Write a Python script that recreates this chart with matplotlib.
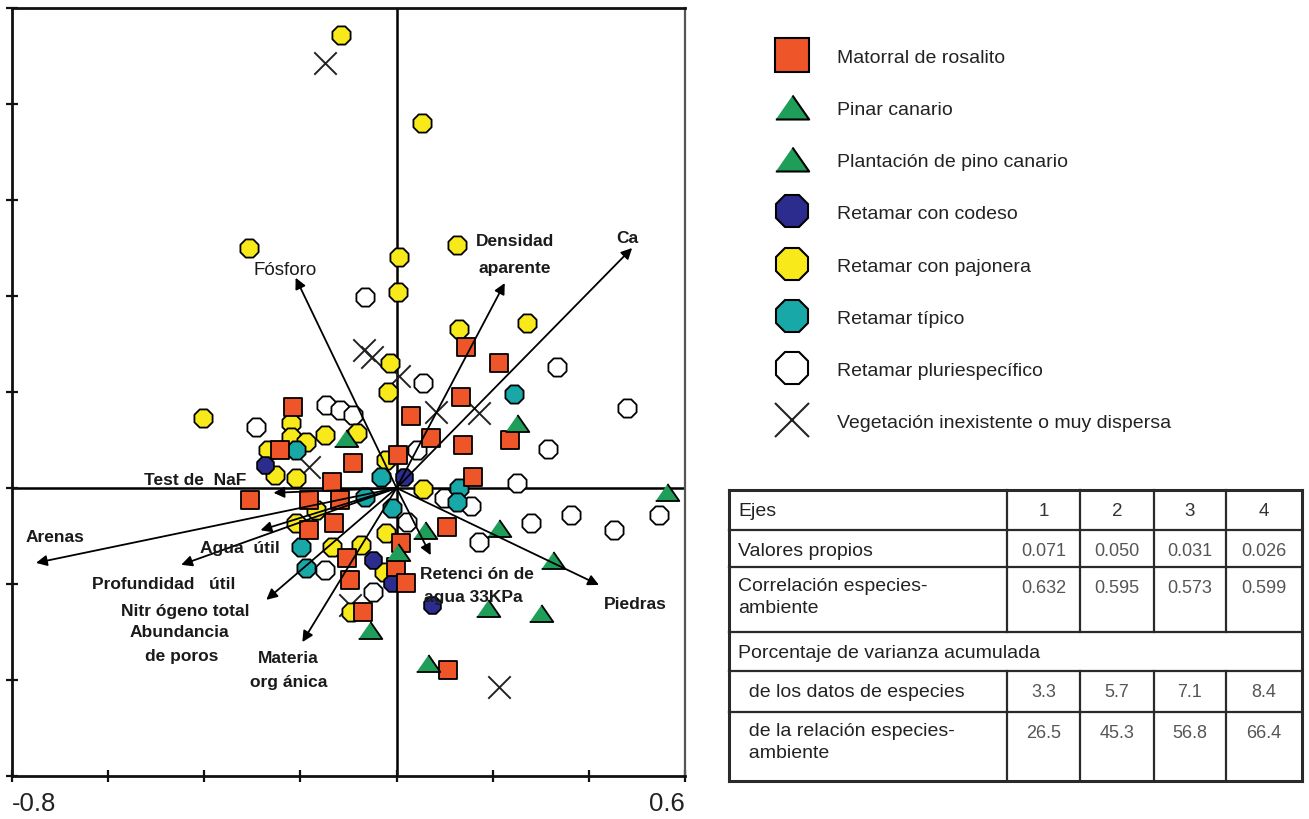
import matplotlib
matplotlib.use('Agg')
import matplotlib.pyplot as plt
from matplotlib.lines import Line2D
import numpy as np

plt.rcParams['font.family'] = ['Liberation Sans', 'DejaVu Sans']

# ---------------- data ----------------
rosalito_x = [0.144, 0.213, 0.135, 0.029, 0.071, 0.138, 0.235, 0.004, -0.090, 0.160, 0.104, 0.010,
              -0.215, -0.242, -0.304, -0.135, -0.183, -0.117, -0.131, -0.183, -0.104, -0.002,
              -0.096, 0.019, -0.069, 0.106]
rosalito_y = [0.294, 0.260, 0.190, 0.150, 0.104, 0.090, 0.100, 0.069, 0.052, 0.023, -0.081, -0.115,
              0.169, 0.079, -0.025, 0.013, -0.025, -0.025, -0.073, -0.088, -0.146, -0.165,
              -0.192, -0.198, -0.258, -0.379]

pinar_x = [0.250, -0.106, 0.563, 0.213, 0.060]
pinar_y = [0.135, 0.104, -0.008, -0.083, -0.088]

plantacion_x = [0.325, 0.190, 0.300, 0.065, -0.056, 0.002]
plantacion_y = [-0.150, -0.250, -0.260, -0.365, -0.296, -0.133]

codeso_x = [-0.273, 0.015, -0.048, -0.010, 0.073]
codeso_y = [0.048, 0.023, -0.150, -0.198, -0.244]

pajonera_x = [-0.115, 0.052, -0.306, 0.125, 0.006, 0.004, 0.129, 0.271, -0.013, -0.017, -0.402,
              -0.219, -0.219, -0.148, -0.188, -0.083, -0.267, -0.252, -0.210, -0.021, 0.056,
              -0.167, -0.210, -0.021, -0.135, -0.075, -0.027, -0.094]
pajonera_y = [0.944, 0.760, 0.500, 0.506, 0.481, 0.408, 0.331, 0.344, 0.260, 0.200, 0.146,
              0.135, 0.106, 0.110, 0.096, 0.115, 0.079, 0.027, 0.021, 0.058, -0.002,
              -0.046, -0.073, -0.094, -0.123, -0.119, -0.175, -0.258]

tipico_x = [0.244, -0.033, 0.129, 0.125, -0.065, -0.010, -0.210, -0.198, -0.188]
tipico_y = [0.196, 0.023, 0.000, -0.029, -0.019, -0.042, 0.079, -0.123, -0.167]

pluri_x = [-0.065, 0.333, 0.056, 0.479, 0.315, -0.146, -0.117, -0.090, -0.292, 0.042, 0.250,
           0.098, 0.154, 0.546, 0.452, 0.363, 0.279, 0.171, 0.021, -0.148, -0.050]
pluri_y = [0.398, 0.252, 0.219, 0.167, 0.081, 0.173, 0.163, 0.152, 0.127, 0.079, 0.010,
           -0.021, -0.038, -0.056, -0.088, -0.056, -0.073, -0.113, -0.071, -0.171, -0.217]

sinveg_x = [-0.148, -0.067, -0.052, 0.006, 0.083, 0.171, -0.183, 0.213, -0.096]
sinveg_y = [0.885, 0.288, 0.273, 0.233, 0.158, 0.156, 0.044, -0.415, -0.244]

# environmental arrows (end points)
arrow_names = ['Ca', 'Densidad aparente', 'Fósforo', 'Piedras', 'Retención', 'Test de NaF',
               'Arenas', 'Agua útil', 'Profundidad útil', 'Nitrógeno total', 'Materia orgánica']
arrow_x = [0.490, 0.225, -0.210, 0.421, 0.071, -0.256, -0.750, -0.283, -0.448, -0.271, -0.196]
arrow_y = [0.500, 0.427, 0.438, -0.202, -0.140, -0.010, -0.156, -0.088, -0.160, -0.233, -0.321]

# arrow labels
label_texts = ['Ca', 'Densidad', 'aparente', 'Fósforo', 'Test de  NaF', 'Arenas', 'Agua  útil',
               'Profundidad   útil', 'Nitr ógeno total', 'Abundancia', 'de poros', 'Materia',
               'org ánica', 'Retenci ón de', 'agua 33KPa', 'Piedras']
label_x = [0.481, 0.246, 0.246, -0.231, -0.419, -0.710, -0.327, -0.485, -0.440, -0.452, -0.448,
           -0.225, -0.225, 0.167, 0.160, 0.496]
label_y = [0.521, 0.515, 0.460, 0.456, 0.017, -0.102, -0.123, -0.200, -0.256, -0.300, -0.348,
           -0.354, -0.404, -0.179, -0.227, -0.240]
label_bold = [True, True, True, False, True, True, True, True, True, True, True, True, True,
              True, True, True]

x_ticks = [-0.8, -0.6, -0.4, -0.2, 0.0, 0.2, 0.4, 0.6]
x_ticklabels = ['-0.8', '', '', '', '', '', '', '0.6']
y_ticks = [-0.6, -0.4, -0.2, 0.0, 0.2, 0.4, 0.6, 0.8, 1.0]

legend_labels = ['Matorral de rosalito', 'Pinar canario', 'Plantación de pino canario',
                 'Retamar con codeso', 'Retamar con pajonera', 'Retamar típico',
                 'Retamar pluriespecífico', 'Vegetación inexistente o muy dispersa']

table_header = ['Ejes', '1', '2', '3', '4']
table_rows = [
    ('Valores propios', ['0.071', '0.050', '0.031', '0.026']),
    ('Correlación especies-\nambiente', ['0.632', '0.595', '0.573', '0.599']),
    ('Porcentaje de varianza acumulada', None),
    ('  de los datos de especies', ['3.3', '5.7', '7.1', '8.4']),
    ('  de la relación especies-\n  ambiente', ['26.5', '45.3', '56.8', '66.4']),
]

# ---------------- style ----------------
RED = '#ee5528'
GREEN = '#1e9e58'
NAVY = '#2c2c8e'
YELLOW = '#f7e91a'
CYAN = '#19a8a8'
WHITE = '#ffffff'
TRI = [(-1.0, -0.72), (1.0, -0.72), (0.0, 0.72)]   # flat triangle marker

W, H = 1309, 820
fig = plt.figure(figsize=(W / 100, H / 100), dpi=100)
fig.patch.set_facecolor('white')

ax = fig.add_axes([12 / W, (H - 777) / H, (685 - 12) / W, (777 - 9) / H])
ax.set_xlim(-0.8, 0.6)
ax.set_ylim(-0.6, 1.0)

for s in ax.spines.values():
    s.set_linewidth(2.0)
    s.set_color('#111111')
ax.spines['right'].set_color('#555555')
ax.spines['right'].set_linewidth(1.6)

ax.set_xticks(x_ticks)
ax.set_xticklabels(x_ticklabels, fontsize=18.5, color='#222222')
ax.set_yticks(y_ticks)
ax.set_yticklabels([''] * len(y_ticks))
ax.tick_params(direction='inout', length=8, width=1.6, color='#111111')
ax.tick_params(axis='x', pad=7)
tl = ax.get_xticklabels()
tl[0].set_horizontalalignment('left')
tl[-1].set_horizontalalignment('right')

ax.axhline(0, color='black', lw=1.8, zorder=1)
ax.axvline(0, color='black', lw=1.8, zorder=1)

mk_kw = dict(edgecolors='black', linewidths=1.3, zorder=4)
ax.scatter(pluri_x, pluri_y, marker='8', s=200, facecolors=WHITE, **mk_kw)
ax.scatter(sinveg_x, sinveg_y, marker='x', s=260, c='#222222', linewidths=1.4, zorder=4)
ax.scatter(pajonera_x, pajonera_y, marker='8', s=200, facecolors=YELLOW, **mk_kw)
ax.scatter(tipico_x, tipico_y, marker='8', s=200, facecolors=CYAN, **mk_kw)
ax.scatter(codeso_x, codeso_y, marker='8', s=170, facecolors=NAVY, **mk_kw)
ax.scatter(rosalito_x, rosalito_y, marker='s', s=170, facecolors=RED, **mk_kw)
ax.scatter(pinar_x, pinar_y, marker=TRI, s=290, facecolors=GREEN, **mk_kw)
ax.scatter(plantacion_x, plantacion_y, marker=TRI, s=290, facecolors=GREEN, **mk_kw)

for ex, ey in zip(arrow_x, arrow_y):
    ax.annotate('', xy=(ex, ey), xytext=(0, 0),
                arrowprops=dict(arrowstyle='-|>', color='black', lw=1.3,
                                mutation_scale=16, shrinkA=0, shrinkB=0),
                zorder=5)

for t, lx, ly, b in zip(label_texts, label_x, label_y, label_bold):
    ax.text(lx, ly, t, ha='center', va='center', fontsize=12.5 if b else 13.5,
            fontweight='bold' if b else 'normal', color='#1a1a1a', zorder=6)

# ---------------- legend ----------------
handles = [
    Line2D([], [], ls='none', marker='s', ms=24, mfc=RED, mec='black', mew=1.5),
    Line2D([], [], ls='none', marker=TRI, ms=24, mfc=GREEN, mec='black', mew=1.5),
    Line2D([], [], ls='none', marker=TRI, ms=24, mfc=GREEN, mec='black', mew=1.5),
    Line2D([], [], ls='none', marker='8', ms=25, mfc=NAVY, mec='black', mew=1.5),
    Line2D([], [], ls='none', marker='8', ms=25, mfc=YELLOW, mec='black', mew=1.5),
    Line2D([], [], ls='none', marker='8', ms=25, mfc=CYAN, mec='black', mew=1.5),
    Line2D([], [], ls='none', marker='8', ms=25, mfc=WHITE, mec='black', mew=1.5),
    Line2D([], [], ls='none', marker='x', ms=24, mec='#222222', mew=1.5),
]
fig.legend(handles, legend_labels, loc='upper left',
           bbox_to_anchor=(776.5 / W, 1 - 49 / H), frameon=False, fontsize=14,
           handlelength=1.6, handletextpad=1.52, labelspacing=1.78, borderpad=0,
           borderaxespad=0, labelcolor='#222222')

# ---------------- table ----------------
tx0, tx1, ty0, ty1 = 729, 1302, 491, 782
tax = fig.add_axes([tx0 / W, (H - ty1) / H, (tx1 - tx0) / W, (ty1 - ty0) / H])
tax.set_xlim(0, tx1 - tx0)
tax.set_ylim(ty1 - ty0, 0)
tax.axis('off')

col_edges = [0, 278, 351, 425, 497, tx1 - tx0]
row_edges = [0, 40, 77, 142, 181, 222, ty1 - ty0]
for yv in row_edges:
    lw = 2.2 if yv in (row_edges[0], row_edges[-1]) else 1.6
    tax.plot([0, col_edges[-1]], [yv, yv], color='#2a2a2a', lw=lw, clip_on=False)
merged = 3
for i, xv in enumerate(col_edges):
    lw = 2.2 if i in (0, len(col_edges) - 1) else 1.6
    for r in range(len(row_edges) - 1):
        if r == merged and 0 < i < len(col_edges) - 1:
            continue
        tax.plot([xv, xv], [row_edges[r], row_edges[r + 1]], color='#2a2a2a', lw=lw,
                 clip_on=False)

all_rows = [(table_header[0], table_header[1:])] + table_rows
for r, (lab, vals) in enumerate(all_rows):
    top = row_edges[r]
    h = row_edges[r + 1] - row_edges[r]
    tall = h > 50
    ly = top + 21 if not tall else top + 10
    tax.text(9, ly, lab, ha='left', va='center' if not tall else 'top', fontsize=14,
             color='#222222', linespacing=1.35)
    if vals is None:
        continue
    for c, v in enumerate(vals):
        cx = (col_edges[c + 1] + col_edges[c + 2]) / 2
        tax.text(cx, top + 21, v, ha='center', va='center', fontsize=13 if r > 0 else 13.5,
                 color='#555555' if r > 0 else '#333333')

fig.savefig('out.png', dpi=100, facecolor='white')
